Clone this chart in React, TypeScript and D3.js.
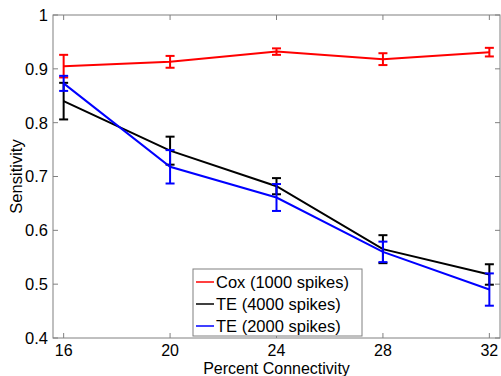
import React from 'react';
import * as d3 from 'd3';

// percent connectivity on the x axis
const connectivity = [16, 20, 24, 28, 32];

// mean sensitivity and error bar half-widths per series
const coxMean = [0.905, 0.913, 0.932, 0.918, 0.931];
const coxErr = [0.021, 0.011, 0.006, 0.011, 0.008];
const te4000Mean = [0.840, 0.748, 0.682, 0.565, 0.518];
const te4000Err = [0.034, 0.026, 0.015, 0.026, 0.019];
const te2000Mean = [0.873, 0.718, 0.661, 0.560, 0.490];
const te2000Err = [0.014, 0.031, 0.025, 0.019, 0.030];

const seriesNames = ['Cox (1000 spikes)', 'TE (4000 spikes)', 'TE (2000 spikes)'];
const seriesColors = ['#ff0000', '#000000', '#0000ff'];

const yTicks = [0.4, 0.5, 0.6, 0.7, 0.8, 0.9, 1];

const W = 501;
const H = 376;
const margin = { top: 15, right: 1, bottom: 38, left: 53 };

const App: React.FC = () => {
  const innerW = W - margin.left - margin.right;
  const innerH = H - margin.top - margin.bottom;

  const x = d3.scaleLinear().domain([15.6, 32.4]).range([0, innerW]);
  const y = d3.scaleLinear().domain([0.4, 1]).range([innerH, 0]);

  const series = [
    { mean: coxMean, err: coxErr },
    { mean: te4000Mean, err: te4000Err },
    { mean: te2000Mean, err: te2000Err },
  ];

  const line = d3.line<number>()
    .x((_, i) => x(connectivity[i]))
    .y(d => y(d));

  const font = '"Liberation Sans", Arial, sans-serif';
  const axisColor = '#808080';
  const tick = 5;
  const cap = 4.5;

  return (
    <svg width={W} height={H} style={{ position: 'absolute', left: 0, top: 0 }} fontFamily={font}>
      <rect width={W} height={H} fill="#fff" />
      <g transform={`translate(${margin.left},${margin.top})`}>
        {/* box */}
        <rect x={0} y={0} width={innerW} height={innerH} fill="none" stroke={axisColor} strokeWidth={1} />

        {/* y ticks */}
        {yTicks.map(t => (
          <g key={t}>
            <line x1={0} x2={tick} y1={y(t)} y2={y(t)} stroke={axisColor} />
            <line x1={innerW} x2={innerW - tick} y1={y(t)} y2={y(t)} stroke={axisColor} />
            <text x={-5} y={y(t)} dy="0.36em" textAnchor="end" fontSize={16.5}>{t === 1 ? '1' : d3.format('.1f')(t)}</text>
          </g>
        ))}

        {/* x ticks */}
        {connectivity.map(t => (
          <g key={t}>
            <line x1={x(t)} x2={x(t)} y1={innerH} y2={innerH - tick} stroke={axisColor} />
            <line x1={x(t)} x2={x(t)} y1={0} y2={tick} stroke={axisColor} />
            <text x={x(t)} y={innerH + 18} textAnchor="middle" fontSize={16}>{t}</text>
          </g>
        ))}

        {/* series */}
        {series.map((s, si) => (
          <g key={si}>
            <path d={line(s.mean) || ''} fill="none" stroke={seriesColors[si]} strokeWidth={2} />
            {s.mean.map((m, i) => {
              const cx = x(connectivity[i]);
              const y1 = y(m + s.err[i]);
              const y2 = y(m - s.err[i]);
              return (
                <g key={i} stroke={seriesColors[si]} strokeWidth={2}>
                  <line x1={cx} x2={cx} y1={y1} y2={y2} />
                  <line x1={cx - cap} x2={cx + cap} y1={y1} y2={y1} />
                  <line x1={cx - cap} x2={cx + cap} y1={y2} y2={y2} />
                </g>
              );
            })}
          </g>
        ))}

        {/* legend */}
        <g transform={`translate(${140},${254})`}>
          <rect x={0} y={0} width={169} height={67} fill="#fff" stroke={axisColor} />
          {seriesNames.map((n, i) => (
            <g key={n} transform={`translate(0,${13 + i * 22})`}>
              <line x1={3} x2={21} y1={0} y2={0} stroke={seriesColors[i]} strokeWidth={1.5} />
              <text x={23} y={0} dy="0.36em" fontSize={16.5}>{n}</text>
            </g>
          ))}
        </g>

        <text x={innerW / 2} y={innerH + 36} textAnchor="middle" fontSize={16}>Percent Connectivity</text>
        <text transform={`translate(${-31},${innerH / 2}) rotate(-90)`} textAnchor="middle" fontSize={16.5}>Sensitivity</text>
      </g>
    </svg>
  );
};

export default App;
